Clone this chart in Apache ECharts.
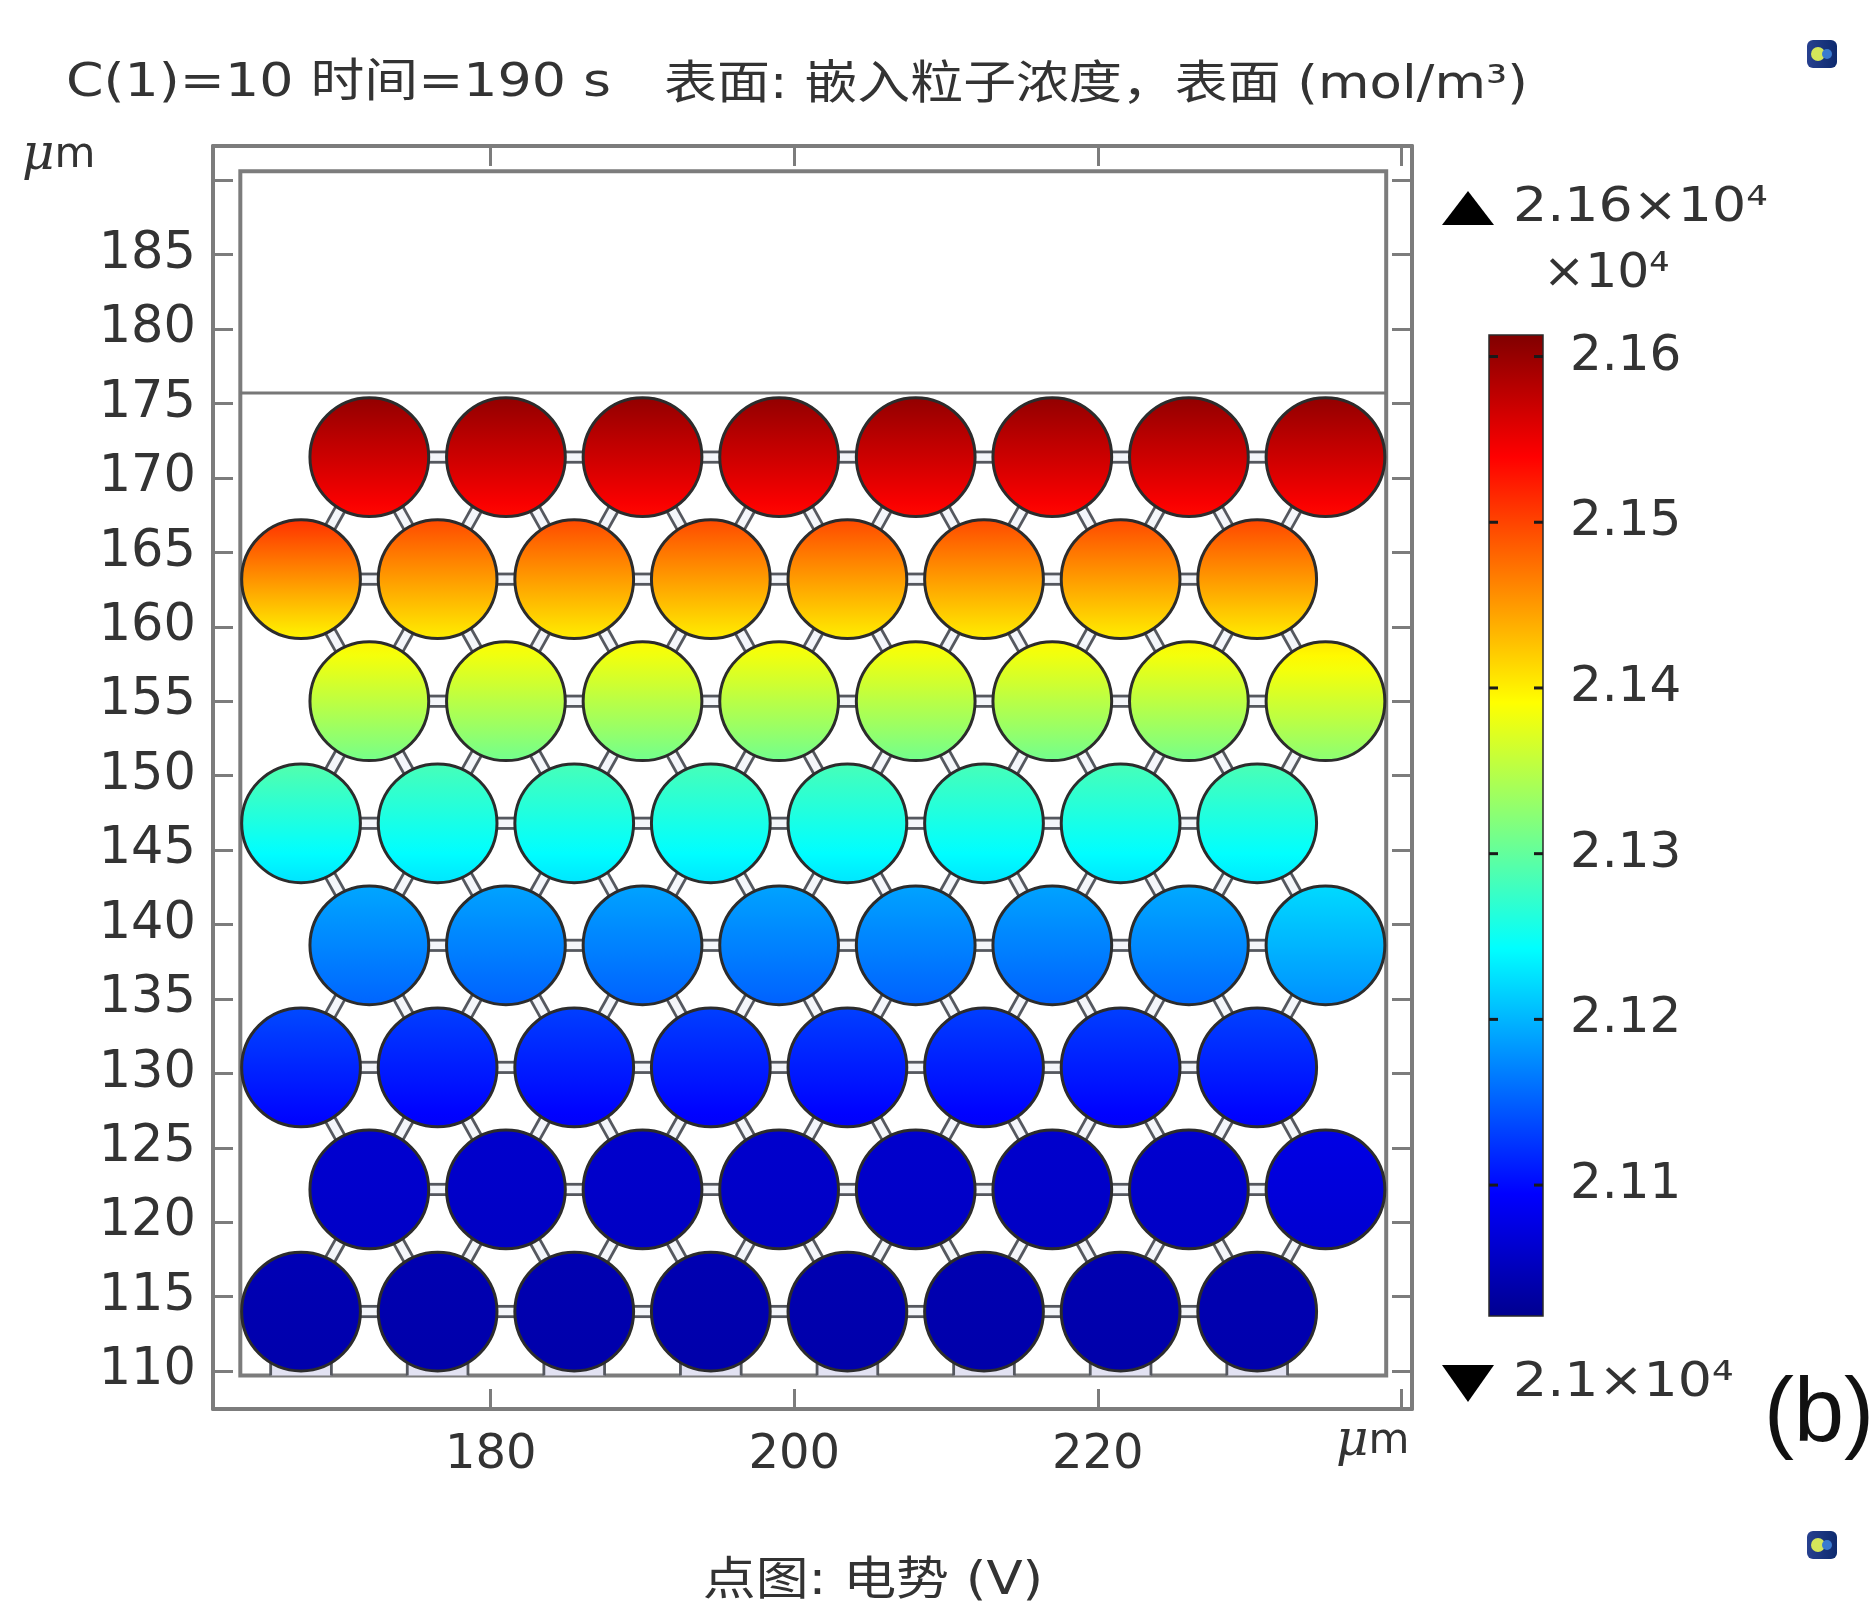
<!DOCTYPE html>
<html><head><meta charset="utf-8">
<script src="https://cdn.jsdelivr.net/npm/echarts@6/dist/echarts.min.js"></script>
<style>html,body{margin:0;padding:0;background:#fff}#c{width:1876px;height:1602px}</style>
</head><body><div id="c"></div>
<script>
// ---------------- data (µm, mol/m^3 ×10^4) ----------------
const xTickValues = [180, 200, 220, 240];
const xLabelValues = [180, 200, 220];
const yTickValues = [110, 115, 120, 125, 130, 135, 140, 145, 150, 155, 160, 165, 170, 175, 180, 185, 190];
const yLabelValues = [110, 115, 120, 125, 130, 135, 140, 145, 150, 155, 160, 165, 170, 175, 180, 185];
const cbTickValues = [2.11, 2.12, 2.13, 2.14, 2.15, 2.16];
const cbRange = [2.1021, 2.1613];
const xRange = [161.7, 240.7];
const yRange = [107.45, 192.3];

const boxX = [163.5, 239.0];
const boxY = [109.7, 190.6];
const separatorY = 175.7;
const particleRadius = 3.95;
const neckHalfWidth = 0.34;
const legOffset = 2.0;

const rowY = [171.4, 163.2, 155.0, 146.8, 138.6, 130.4, 122.2, 114.0];
const xOdd = [172, 181, 190, 199, 208, 217, 226, 235];
const xEven = [167.5, 176.5, 185.5, 194.5, 203.5, 212.5, 221.5, 230.5];

// concentration at top / bottom of each particle (×10^4 mol/m^3)
const topConc = [
  [2.1603, 2.1603, 2.1603, 2.1603, 2.1603, 2.1603, 2.1603, 2.1603],
  [2.1512, 2.1497, 2.1497, 2.1497, 2.1497, 2.1497, 2.1497, 2.1499],
  [2.1396, 2.1393, 2.1393, 2.1393, 2.1393, 2.1393, 2.1395, 2.1405],
  [2.1292, 2.1285, 2.1285, 2.1285, 2.1285, 2.1285, 2.1285, 2.1287],
  [2.1192, 2.1190, 2.1190, 2.1190, 2.1190, 2.1190, 2.1194, 2.1222],
  [2.1138, 2.1132, 2.1132, 2.1132, 2.1132, 2.1132, 2.1132, 2.1134],
  [2.1064, 2.1062, 2.1062, 2.1062, 2.1062, 2.1062, 2.1064, 2.1078],
  [2.1046, 2.1044, 2.1044, 2.1044, 2.1044, 2.1044, 2.1044, 2.1045]
];
const bottomConc = [
  [2.1534, 2.1534, 2.1534, 2.1534, 2.1534, 2.1534, 2.1534, 2.1534],
  [2.1395, 2.1400, 2.1400, 2.1400, 2.1400, 2.1400, 2.1400, 2.1401],
  [2.1310, 2.1308, 2.1308, 2.1308, 2.1308, 2.1308, 2.1310, 2.1323],
  [2.1226, 2.1228, 2.1228, 2.1228, 2.1228, 2.1228, 2.1228, 2.1229],
  [2.1153, 2.1151, 2.1151, 2.1151, 2.1151, 2.1151, 2.1155, 2.1178],
  [2.1094, 2.1091, 2.1091, 2.1091, 2.1091, 2.1091, 2.1091, 2.1092],
  [2.1058, 2.1056, 2.1056, 2.1056, 2.1056, 2.1056, 2.1057, 2.1064],
  [2.1040, 2.1039, 2.1039, 2.1039, 2.1039, 2.1039, 2.1039, 2.1040]
];

// ---------------- colour map (rainbow / jet) ----------------
const JET = [[0, [0, 0, 143]], [0.125, [0, 0, 255]], [0.375, [0, 255, 255]],
             [0.625, [255, 255, 0]], [0.875, [255, 0, 0]], [1, [128, 0, 0]]];
function jet(t) {
  t = Math.max(0, Math.min(1, t));
  for (let i = 1; i < JET.length; i++) {
    if (t <= JET[i][0]) {
      const a = JET[i - 1], b = JET[i];
      const f = (t - a[0]) / (b[0] - a[0]);
      const c = a[1].map((v, k) => Math.round(v + (b[1][k] - v) * f));
      return 'rgb(' + c.join(',') + ')';
    }
  }
  return 'rgb(128,0,0)';
}
function concColor(v) { return jet((v - cbRange[0]) / (cbRange[1] - cbRange[0])); }

// ---------------- derived series data ----------------
const circles = [];
rowY.forEach((y, r) => {
  const xs = r % 2 === 0 ? xOdd : xEven;
  xs.forEach((x, i) => circles.push([x, y, topConc[r][i], bottomConc[r][i]]));
});
const necks = [];
for (let a = 0; a < circles.length; a++) {
  for (let b = a + 1; b < circles.length; b++) {
    const d = Math.hypot(circles[a][0] - circles[b][0], circles[a][1] - circles[b][1]);
    if (d < 10) necks.push([circles[a][0], circles[a][1], circles[b][0], circles[b][1]]);
  }
}
const bottomRow = circles.filter(c => c[1] === rowY[rowY.length - 1]).map(c => [c[0], c[1]]);

const FONT = "'DejaVu Sans','Noto Sans CJK SC',sans-serif";
const GRAY = '#7c7c7c';
const TXT = '#333';

const chart = echarts.init(document.getElementById('c'), null, { renderer: 'canvas' });

function axisCommon(pos, showLabel, labelVals, tickVals, margin, fs) {
  return {
    type: 'value', position: pos,
    axisLine: { show: true, onZero: false, lineStyle: { color: GRAY, width: 4 } },
    axisTick: { show: true, inside: true, length: 20, customValues: tickVals, lineStyle: { color: GRAY, width: 3 } },
    axisLabel: { show: showLabel, customValues: labelVals, fontSize: fs, fontFamily: FONT, color: TXT, margin: margin },
    splitLine: { show: false }
  };
}

const option = {
  backgroundColor: '#fff',
  animation: false,
  grid: [
    { left: 213, top: 146, width: 1199, height: 1263, containLabel: false },
    { left: 1489, top: 335, width: 54, height: 981, containLabel: false }
  ],
  xAxis: [
    Object.assign(axisCommon('bottom', true, xLabelValues, xTickValues, 23, 48), { gridIndex: 0, min: xRange[0], max: xRange[1] }),
    Object.assign(axisCommon('top', false, xLabelValues, xTickValues, 23, 48), { gridIndex: 0, min: xRange[0], max: xRange[1] }),
    { type: 'value', gridIndex: 1, min: 0, max: 1, show: false }
  ],
  yAxis: [
    Object.assign(axisCommon('left', true, yLabelValues, yTickValues, 17, 51), { gridIndex: 0, min: yRange[0], max: yRange[1] }),
    Object.assign(axisCommon('right', false, yLabelValues, yTickValues, 17, 51), { gridIndex: 0, min: yRange[0], max: yRange[1] }),
    {
      type: 'value', gridIndex: 1, position: 'right', min: cbRange[0], max: cbRange[1],
      axisLine: { show: false },
      axisTick: { show: false },
      axisLabel: { show: true, customValues: cbTickValues, formatter: v => v.toFixed(2), fontSize: 50, fontFamily: FONT, color: TXT, margin: 27 },
      splitLine: { show: false }
    }
  ],
  series: [
    { // geometry boundary
      type: 'custom', xAxisIndex: 0, yAxisIndex: 0, z: 1, silent: true,
      data: [[boxX[0], boxY[0], boxX[1], boxY[1], separatorY]],
      renderItem(params, api) {
        const p0 = api.coord([api.value(0), api.value(3)]);
        const p1 = api.coord([api.value(2), api.value(1)]);
        const s = api.coord([api.value(0), api.value(4)]);
        return { type: 'group', children: [
          { type: 'rect', shape: { x: p0[0], y: p0[1], width: p1[0] - p0[0], height: p1[1] - p0[1] },
            style: { fill: 'none', stroke: GRAY, lineWidth: 4 } },
          { type: 'line', shape: { x1: p0[0], y1: s[1], x2: p1[0], y2: s[1] },
            style: { stroke: '#777', lineWidth: 3 } }
        ] };
      }
    },
    { // necks between particles
      type: 'custom', xAxisIndex: 0, yAxisIndex: 0, z: 2, silent: true,
      data: necks,
      renderItem(params, api) {
        const p1 = api.coord([api.value(0), api.value(1)]);
        const p2 = api.coord([api.value(2), api.value(3)]);
        const sz = api.size([particleRadius, particleRadius]);
        const rp = (sz[0] + sz[1]) / 2;
        const w = api.size([neckHalfWidth, neckHalfWidth])[0];
        const dx = p2[0] - p1[0], dy = p2[1] - p1[1], L = Math.hypot(dx, dy);
        const ux = dx / L, uy = dy / L, nx = -uy, ny = ux;
        const s0 = rp - 6, s1 = L - rp + 6;
        const ch = [];
        ch.push({ type: 'polygon', shape: { points: [
          [p1[0] + ux * s0 + nx * w, p1[1] + uy * s0 + ny * w],
          [p1[0] + ux * s1 + nx * w, p1[1] + uy * s1 + ny * w],
          [p1[0] + ux * s1 - nx * w, p1[1] + uy * s1 - ny * w],
          [p1[0] + ux * s0 - nx * w, p1[1] + uy * s0 - ny * w]] },
          style: { fill: '#f4f6fa', stroke: 'none' } });
        [1, -1].forEach(sg => ch.push({ type: 'line', shape: {
          x1: p1[0] + ux * s0 + nx * w * sg, y1: p1[1] + uy * s0 + ny * w * sg,
          x2: p1[0] + ux * s1 + nx * w * sg, y2: p1[1] + uy * s1 + ny * w * sg },
          style: { stroke: '#55585f', lineWidth: 2.8 } }));
        return { type: 'group', children: ch };
      }
    },
    { // legs of bottom particles to the lower boundary
      type: 'custom', xAxisIndex: 0, yAxisIndex: 0, z: 2, silent: true,
      data: bottomRow,
      renderItem(params, api) {
        const cx = api.value(0), cy = api.value(1);
        const a = api.coord([cx - legOffset, boxY[0]]), b = api.coord([cx + legOffset, cy]);
        return { type: 'group', children: [
          { type: 'rect', shape: { x: a[0], y: b[1], width: b[0] - a[0], height: a[1] - b[1] },
            style: { fill: '#e2e2f2', stroke: 'none' } },
          { type: 'line', shape: { x1: a[0], y1: a[1], x2: a[0], y2: b[1] }, style: { stroke: '#55585f', lineWidth: 2.8 } },
          { type: 'line', shape: { x1: b[0], y1: a[1], x2: b[0], y2: b[1] }, style: { stroke: '#55585f', lineWidth: 2.8 } }
        ] };
      }
    },
    { // particles with concentration gradient
      type: 'custom', xAxisIndex: 0, yAxisIndex: 0, z: 3, silent: true,
      data: circles,
      renderItem(params, api) {
        const c = api.coord([api.value(0), api.value(1)]);
        const sz = api.size([particleRadius, particleRadius]);
        const r = (sz[0] + sz[1]) / 2;
        const vt = api.value(2), vb = api.value(3);
        const stops = [];
        for (let k = 0; k <= 8; k++) stops.push({ offset: k / 8, color: concColor(vt + (vb - vt) * k / 8) });
        return { type: 'circle', shape: { cx: c[0], cy: c[1], r: r },
          style: { fill: new echarts.graphic.LinearGradient(0, 0, 0, 1, stops), stroke: '#2c2c2c', lineWidth: 3 } };
      }
    },
    { // colour bar with internal tick marks
      type: 'custom', xAxisIndex: 2, yAxisIndex: 2, z: 2, silent: true,
      data: [[0, cbRange[0], 1, cbRange[1]]],
      renderItem(params, api) {
        const p0 = api.coord([api.value(0), api.value(3)]);
        const p1 = api.coord([api.value(2), api.value(1)]);
        const stops = JET.map(s => ({ offset: 1 - s[0], color: jet(s[0]) })).reverse();
        const ch = [{ type: 'rect', shape: { x: p0[0], y: p0[1], width: p1[0] - p0[0], height: p1[1] - p0[1] },
          style: { fill: new echarts.graphic.LinearGradient(0, 0, 0, 1, stops), stroke: '#2a2a2a', lineWidth: 1.5 } }];
        cbTickValues.forEach(v => {
          const y = api.coord([0, v])[1];
          ch.push({ type: 'line', shape: { x1: p0[0], y1: y, x2: p0[0] + 9, y2: y }, style: { stroke: '#1a1a1a', lineWidth: 3 } });
          ch.push({ type: 'line', shape: { x1: p1[0] - 9, y1: y, x2: p1[0], y2: y }, style: { stroke: '#1a1a1a', lineWidth: 3 } });
        });
        return { type: 'group', children: ch };
      }
    }
  ],
  graphic: [
    { type: 'text', x: 66, y: 84, scaleX: 1.17, style: { text: 'C(1)=10 时间=190 s', fontSize: 46, fontFamily: FONT, fill: TXT, align: 'left', verticalAlign: 'middle' } },
    { type: 'text', x: 664, y: 86, scaleX: 1.15, style: { text: '表面: 嵌入粒子浓度，表面 (mol/m³)', fontSize: 46, fontFamily: FONT, fill: TXT, align: 'left', verticalAlign: 'middle' } },
    { type: 'text', x: 22, y: 156, style: { text: '{mu|μ}m', fontSize: 42, fontFamily: FONT, fill: TXT, align: 'left', verticalAlign: 'middle',
      rich: { mu: { fontSize: 50, fontStyle: 'italic', fontFamily: 'DejaVu Serif', fill: TXT } } } },
    { type: 'text', x: 1336, y: 1442, style: { text: '{mu|μ}m', fontSize: 42, fontFamily: FONT, fill: TXT, align: 'left', verticalAlign: 'middle',
      rich: { mu: { fontSize: 50, fontStyle: 'italic', fontFamily: 'DejaVu Serif', fill: TXT } } } },
    { type: 'polygon', shape: { points: [[1442, 225], [1494, 225], [1468, 191]] }, style: { fill: '#000' } },
    { type: 'text', x: 1513, y: 209, scaleX: 1.12, style: { text: '2.16×10⁴', fontSize: 48, fontFamily: FONT, fill: TXT, align: 'left', verticalAlign: 'middle' } },
    { type: 'text', x: 1543, y: 275, scaleX: 1.05, style: { text: '×10⁴', fontSize: 48, fontFamily: FONT, fill: TXT, align: 'left', verticalAlign: 'middle' } },
    { type: 'polygon', shape: { points: [[1442, 1365], [1494, 1365], [1468, 1402]] }, style: { fill: '#000' } },
    { type: 'text', x: 1513, y: 1384, scaleX: 1.12, style: { text: '2.1×10⁴', fontSize: 48, fontFamily: FONT, fill: TXT, align: 'left', verticalAlign: 'middle' } },
    { type: 'text', x: 1764, y: 1416, style: { text: '(b)', fontSize: 90, fontFamily: "'Liberation Sans',sans-serif", fill: '#111', align: 'left', verticalAlign: 'middle' } },
    { type: 'text', x: 873, y: 1582, scaleX: 1.15, style: { text: '点图: 电势 (V)', fontSize: 46, fontFamily: FONT, fill: TXT, align: 'center', verticalAlign: 'middle' } },
    { type: 'group', x: 1807, y: 40, children: [
      { type: 'rect', shape: { x: 0, y: 0, width: 30, height: 28, r: 6 }, style: { fill: new echarts.graphic.LinearGradient(0, 0, 1, 0, [{ offset: 0, color: '#27408f' }, { offset: 1, color: '#0d2a6e' }]) } },
      { type: 'circle', shape: { cx: 11, cy: 14, r: 7 }, style: { fill: '#d4e65a' } },
      { type: 'circle', shape: { cx: 20, cy: 14, r: 5 }, style: { fill: '#3a7ad0' } }
    ] },
    { type: 'group', x: 1807, y: 1531, children: [
      { type: 'rect', shape: { x: 0, y: 0, width: 30, height: 28, r: 6 }, style: { fill: new echarts.graphic.LinearGradient(0, 0, 1, 0, [{ offset: 0, color: '#27408f' }, { offset: 1, color: '#0d2a6e' }]) } },
      { type: 'circle', shape: { cx: 11, cy: 14, r: 7 }, style: { fill: '#d4e65a' } },
      { type: 'circle', shape: { cx: 20, cy: 14, r: 5 }, style: { fill: '#3a7ad0' } }
    ] }
  ]
};
chart.setOption(option);
</script></body></html>
